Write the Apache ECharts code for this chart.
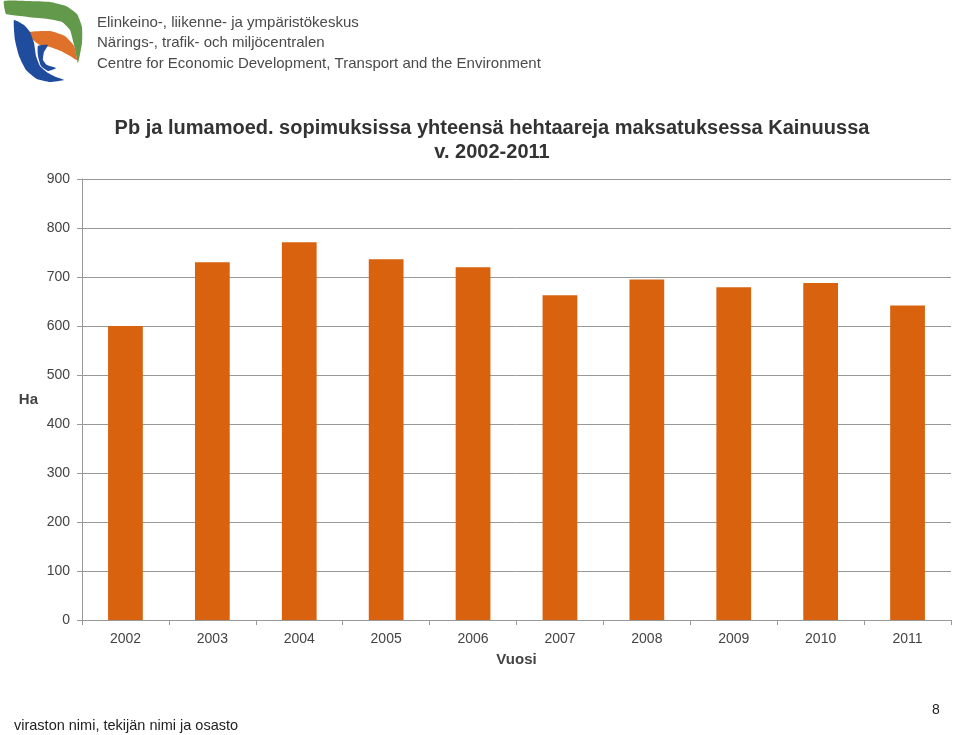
<!DOCTYPE html>
<html>
<head>
<meta charset="utf-8">
<script src="https://cdn.jsdelivr.net/npm/echarts@6/dist/echarts.min.js"></script>
<style>html,body{margin:0;padding:0;background:#fff;}#c{width:960px;height:735px;}</style>
</head>
<body>
<div id="c"></div>
<script>
var years = ['2002','2003','2004','2005','2006','2007','2008','2009','2010','2011'];
var hectares = [600, 730, 771, 736, 720, 663, 695, 679, 688, 642];
var yTicks = {min: 0, max: 900, interval: 100};
var titleText = 'Pb ja lumamoed. sopimuksissa yhteensä hehtaareja maksatuksessa Kainuussa\nv. 2002-2011';
var headerLines = ['Elinkeino-, liikenne- ja ympäristökeskus', 'Närings-, trafik- och miljöcentralen', 'Centre for Economic Development, Transport and the Environment'];

var chart = echarts.init(document.getElementById('c'), null, {renderer: 'canvas'});
var font = '"Liberation Sans", Arial, sans-serif';
var graphics = [
  {type: 'polygon', shape: {smooth: 0.15, points: [[4,1],[28,1],[50,2],[66,6],[77,14],[82,27],[82,43],[78,63],[74,45],[70,30],[62,22],[48,19],[28,17],[12,15],[6,14]]}, style: {fill: '#63994A'}},
  {type: 'polygon', shape: {smooth: 0.15, points: [[29,32],[50,31],[65,36],[74,46],[77,60],[70,56],[61,51],[50,47],[40,45],[33,40]]}, style: {fill: '#E0712A'}},
  {type: 'polygon', shape: {smooth: 0.15, points: [[14,20],[24,25],[30,32],[34,43],[36,56],[40,66],[48,73],[56,77],[64,80],[50,82],[37,79],[26,70],[19,56],[15,40]]}, style: {fill: '#1F4C9C'}},
  {type: 'polygon', shape: {smooth: 0.15, points: [[38,46],[48,45],[44,52],[43,60],[47,65],[56,68],[48,71],[41,66],[38,56]]}, style: {fill: '#1F4C9C'}}
];
headerLines.forEach(function (t, i) {
  graphics.push({type: 'text', left: 97, top: 15 + i * 20.7, style: {text: t, font: '15px ' + font, fill: '#4a4a4a'}});
});
graphics.push({type: 'text', left: 14, top: 718, style: {text: 'viraston nimi, tekijän nimi ja osasto', font: '14.5px ' + font, fill: '#222'}});
graphics.push({type: 'text', left: 932, top: 703, style: {text: '8', font: '14px ' + font, fill: '#222'}});

chart.setOption({
  backgroundColor: '#fff',
  animation: false,
  title: {
    text: titleText, left: 487, top: 111, textAlign: 'center',
    textStyle: {fontFamily: font, fontSize: 20, fontWeight: 'bold', color: '#333', lineHeight: 24}
  },
  graphic: graphics,
  grid: {left: 82, right: 9, top: 179, bottom: 115},
  xAxis: {
    type: 'category', data: years,
    name: 'Vuosi', nameLocation: 'middle', nameGap: 32,
    nameTextStyle: {fontFamily: font, fontSize: 15, fontWeight: 'bold', color: '#444'},
    axisLine: {lineStyle: {color: '#999'}},
    axisTick: {show: true, length: 5, lineStyle: {color: '#999'}},
    axisLabel: {fontFamily: font, fontSize: 14, color: '#444', margin: 12}
  },
  yAxis: {
    type: 'value', min: yTicks.min, max: yTicks.max, interval: yTicks.interval,
    name: 'Ha', nameLocation: 'middle', nameGap: 44, nameRotate: 0,
    nameTextStyle: {fontFamily: font, fontSize: 15, fontWeight: 'bold', color: '#444'},
    axisLine: {show: true, lineStyle: {color: '#999'}},
    axisTick: {show: true, length: 5, lineStyle: {color: '#999'}},
    splitLine: {lineStyle: {color: '#999'}},
    axisLabel: {fontFamily: font, fontSize: 14, color: '#444', margin: 12}
  },
  series: [{
    type: 'bar', data: hectares, barWidth: '40%',
    itemStyle: {color: '#D9620E'}
  }]
});
</script>
</body>
</html>
